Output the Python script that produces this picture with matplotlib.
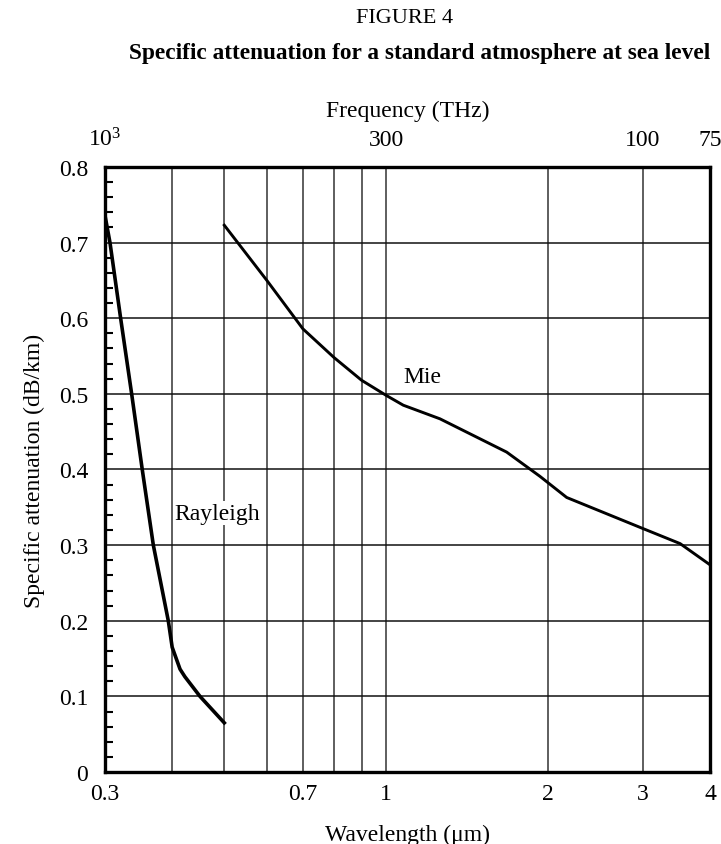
import numpy as np
import matplotlib
matplotlib.use("Agg")
import matplotlib.pyplot as plt
from matplotlib.ticker import FixedLocator, NullLocator, MultipleLocator

plt.rcParams['font.family'] = ['Liberation Serif', 'DejaVu Serif']
plt.rcParams['mathtext.default'] = 'regular'

# Rayleigh curve (wavelength um, dB/km)
rayleigh_wl = [0.300, 0.3065, 0.3208, 0.3363, 0.3519, 0.369, 0.3934, 0.400, 0.4137, 0.4224, 0.4506, 0.500]
rayleigh_att = [0.736, 0.700, 0.600, 0.500, 0.400, 0.300, 0.200, 0.165, 0.136, 0.126, 0.100, 0.065]

# Mie curve
mie_wl = [0.500, 0.600, 0.700, 0.800, 0.900, 1.000, 1.076, 1.259, 1.675, 1.931, 2.166, 3.000, 3.520, 4.000]
mie_att = [0.723, 0.650, 0.586, 0.548, 0.518, 0.498, 0.485, 0.467, 0.423, 0.391, 0.363, 0.322, 0.302, 0.274]

x_grid = [0.3, 0.4, 0.5, 0.6, 0.7, 0.8, 0.9, 1, 2, 3, 4]
x_ticks = [0.3, 0.7, 1, 2, 3, 4]
x_ticklabels = ['0.3', '0.7', '1', '2', '3', '4']
freq_ticks = [1000, 300, 100, 75]
freq_labels = ['$10^3$', '300', '100', '75']

fig = plt.figure(figsize=(7.21, 8.45), dpi=100)
ax = fig.add_axes([0.1456, 0.0852, 0.8391, 0.716])

ax.set_xscale('log')
ax.set_xlim(0.3, 4)
ax.set_ylim(0, 0.8)

for xv in x_grid:
    ax.axvline(xv, color='#333333', lw=1.1, zorder=1)
for yv in np.arange(0.1, 0.8, 0.1):
    ax.axhline(yv, color='#111111', lw=1.1, zorder=1)

ax.plot(rayleigh_wl, rayleigh_att, color='black', lw=2.6, zorder=3)
ax.plot(mie_wl, mie_att, color='black', lw=2.1, zorder=3)

ax.text(0.4845, 0.342, 'Rayleigh', fontsize=17, ha='center', va='center',
        bbox=dict(facecolor='white', edgecolor='none', pad=1), zorder=2)
ax.text(1.17, 0.523, 'Mie', fontsize=17, ha='center', va='center',
        bbox=dict(facecolor='white', edgecolor='none', pad=1), zorder=2)

ax.xaxis.set_major_locator(FixedLocator(x_ticks))
ax.xaxis.set_minor_locator(NullLocator())
ax.set_xticklabels(x_ticklabels)
ax.tick_params(axis='x', which='both', length=0, labelsize=17, pad=8)

ax.yaxis.set_major_locator(MultipleLocator(0.1))
ax.yaxis.set_minor_locator(MultipleLocator(0.02))
ax.yaxis.set_major_formatter(plt.FuncFormatter(lambda v, p: '0' if abs(v) < 1e-9 else '%.1f' % v))
ax.tick_params(axis='y', which='major', length=0, labelsize=17, pad=12)
ax.tick_params(axis='y', which='minor', direction='in', length=6, width=1.5)

for sp in ax.spines.values():
    sp.set_linewidth(2.4)
    sp.set_zorder(4)

ax2 = ax.twiny()
ax2.set_xscale('log')
ax2.set_xlim(0.3, 4)
ax2.xaxis.set_major_locator(FixedLocator([300.0 / f for f in freq_ticks]))
ax2.xaxis.set_minor_locator(NullLocator())
ax2.set_xticklabels(freq_labels)
ax2.tick_params(axis='x', which='both', length=0, labelsize=17, pad=12)
ax2.set_xlabel('Frequency (THz)', fontsize=17, labelpad=8)

ax.set_xlabel('Wavelength (μm)', fontsize=17, labelpad=14)
ax.set_ylabel('Specific attenuation (dB/km)', fontsize=17, labelpad=10)

fig.text(0.5616, 0.978, 'FIGURE 4', fontsize=16, ha='center', va='center')
fig.text(0.582, 0.937, 'Specific attenuation for a standard atmosphere at sea level',
         fontsize=16.8, fontweight='bold', ha='center', va='center')

fig.savefig('out.png', dpi=100)
